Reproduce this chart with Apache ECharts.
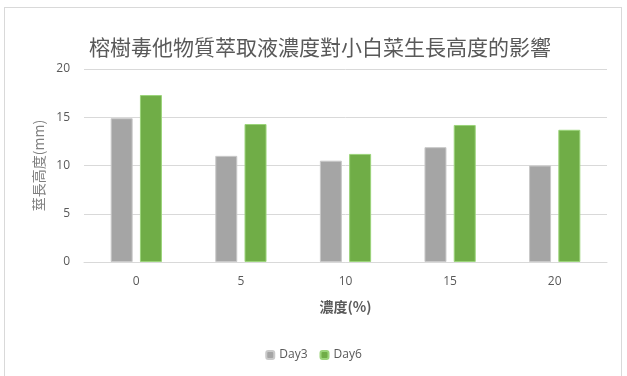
<!DOCTYPE html>
<html><head><meta charset="utf-8">
<script src="https://cdn.jsdelivr.net/npm/echarts@6/dist/echarts.min.js"></script>
<style>html,body{margin:0;padding:0;background:#fff}#box{position:absolute;left:4px;top:7px;width:618px;height:380px;border:1px solid #d9d9d9;box-sizing:border-box}#c{width:627px;height:376px;position:absolute;left:0;top:0}</style>
</head><body><div id="box"></div><div id="c"></div>
<script>
const categories = ['0','5','10','15','20'];
const day3 = [14.9, 11.0, 10.5, 11.9, 10.0];
const day6 = [17.3, 14.3, 11.2, 14.2, 13.7];
const seriesNames = ['Day3','Day6'];
const yTicks = {min:0, max:20, interval:5};

const chart = echarts.init(document.getElementById('c'), null, {renderer:'canvas'});
const txt = '#595959';
chart.setOption({
  animation:false,
  title:{text:'榕樹毒他物質萃取液濃度對小白菜生長高度的影響', left:315, textAlign:'center', top:32,
    textStyle:{fontFamily:'"Noto Sans CJK TC"', fontSize:21, fontWeight:'normal', color:'#595959'}},
  legend:{bottom:10, left:'center', itemWidth:8, itemHeight:8, itemGap:12,
    textStyle:{color:txt, fontSize:12, fontFamily:'"Open Sans"'}, data:seriesNames},
  grid:{left:84, right:20, top:69, bottom:114, containLabel:false},
  xAxis:{type:'category', data:categories,
    name:'濃度(%)', nameLocation:'middle', nameGap:38,
    nameTextStyle:{color:txt, fontSize:14, fontWeight:'bold', fontFamily:'"Noto Sans CJK TC"'},
    axisLine:{lineStyle:{color:'#d9d9d9'}}, axisTick:{show:false},
    axisLabel:{color:txt, fontSize:12, margin:14, fontFamily:'"Open Sans"'}},
  yAxis:{type:'value', min:yTicks.min, max:yTicks.max, interval:yTicks.interval,
    name:'莖長高度(mm)', nameLocation:'middle', nameGap:37, nameRotate:90,
    nameTextStyle:{color:'#7f7f7f', fontSize:14, fontFamily:'"Noto Sans CJK TC"'},
    axisLine:{show:false}, axisTick:{show:false},
    splitLine:{lineStyle:{color:'#d9d9d9'}},
    axisLabel:{color:txt, fontSize:12, margin:14, fontFamily:'"Open Sans"'}},
  series:[
    {name:seriesNames[0], type:'bar', data:day3, barWidth:22, barGap:'33%',
      itemStyle:{color:'#a5a5a5', borderColor:'#c9c9c9', borderWidth:1}},
    {name:seriesNames[1], type:'bar', data:day6, barWidth:22,
      itemStyle:{color:'#70ad47', borderColor:'#9bd47a', borderWidth:1}}
  ]
});
</script></body></html>
